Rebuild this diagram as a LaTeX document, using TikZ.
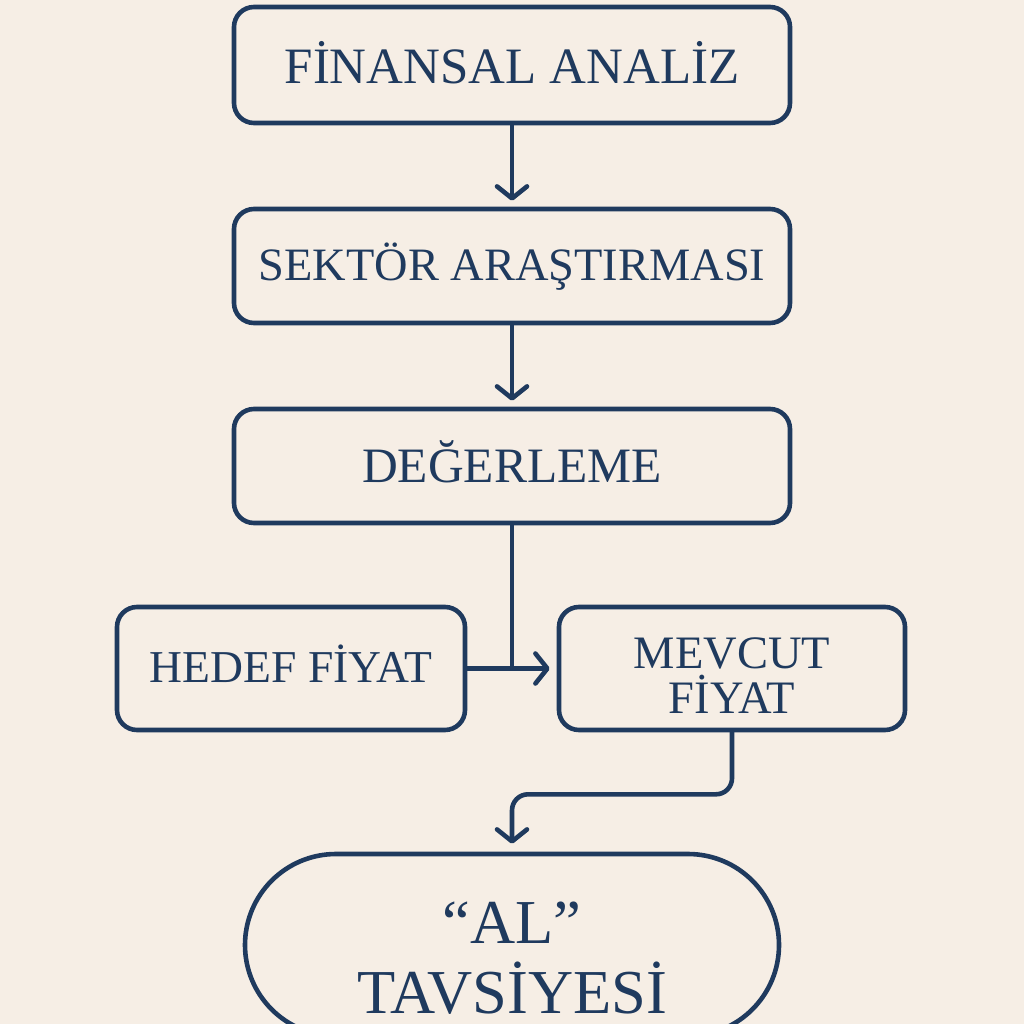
\documentclass[tikz,border=0pt]{standalone}
\usepackage{fontspec}
\setmainfont{Liberation Serif}
\usetikzlibrary{arrows.meta,calc}
\definecolor{navy}{HTML}{1F3A5E}
\definecolor{cream}{HTML}{F6EEE5}
\tikzset{
  box/.style={draw=navy, line width=4.6pt, rounded corners=20pt, text=navy, align=center, inner sep=0pt, text depth=0pt},
  conn/.style={draw=navy, line width=4.6pt, line cap=round, line join=round},
  arr/.style={conn, -{Straight Barb[length=12pt,width=30pt,line cap=round,line join=round]}, shorten >=6pt},
}
\begin{document}
\begin{tikzpicture}[x=1pt,y=-1pt]
\useasboundingbox (0,0) rectangle (1024,1024);
\fill[cream] (0,0) rectangle (1024,1024);

\node[box, minimum width=556pt, minimum height=116pt, text height=37pt,
      font=\fontsize{51}{55}\selectfont] (fin) at (512,65) {FİNANSAL ANALİZ};
\node[box, minimum width=556pt, minimum height=114pt, text height=28.5pt,
      font=\fontsize{46.4}{50}\selectfont] (sek) at (512,266) {SEKTÖR ARAŞTIRMASI};
\node[box, minimum width=556pt, minimum height=114pt, text height=33pt,
      font=\fontsize{49.5}{53}\selectfont] (deg) at (512,466) {DEĞERLEME};
\node[box, minimum width=348pt, minimum height=123pt, text height=28pt,
      font=\fontsize{45.6}{49}\selectfont] (hed) at (291,668.5) {HEDEF FİYAT};
\node[box, minimum width=346pt, minimum height=123pt, text height=89pt, text depth=0pt,
      font=\fontsize{46.5}{45}\selectfont] (mev) at (732,668.5) {MEVCUT\\FİYAT};
\node[box, minimum width=534pt, minimum height=182pt, rounded corners=91pt, text height=136pt, text depth=0pt,
      font=\fontsize{62.5}{70}\selectfont] (al) at (512,945) {“AL”\\TAVSİYESİ};

\draw[arr] (fin.south) -- (sek.north);
\draw[arr] (sek.south) -- (deg.north);
\coordinate (join) at (deg.south |- hed.east);
\draw[conn] (deg.south) -- (join);
\draw[arr, shorten >=7pt] (hed.east) -- (mev.west);
\coordinate (bend) at ($(mev.south)+(0,62)$);
\draw[arr, rounded corners=16pt, shorten >=8pt] (mev.south) -- (bend) -| (al.north);
\end{tikzpicture}
\end{document}
